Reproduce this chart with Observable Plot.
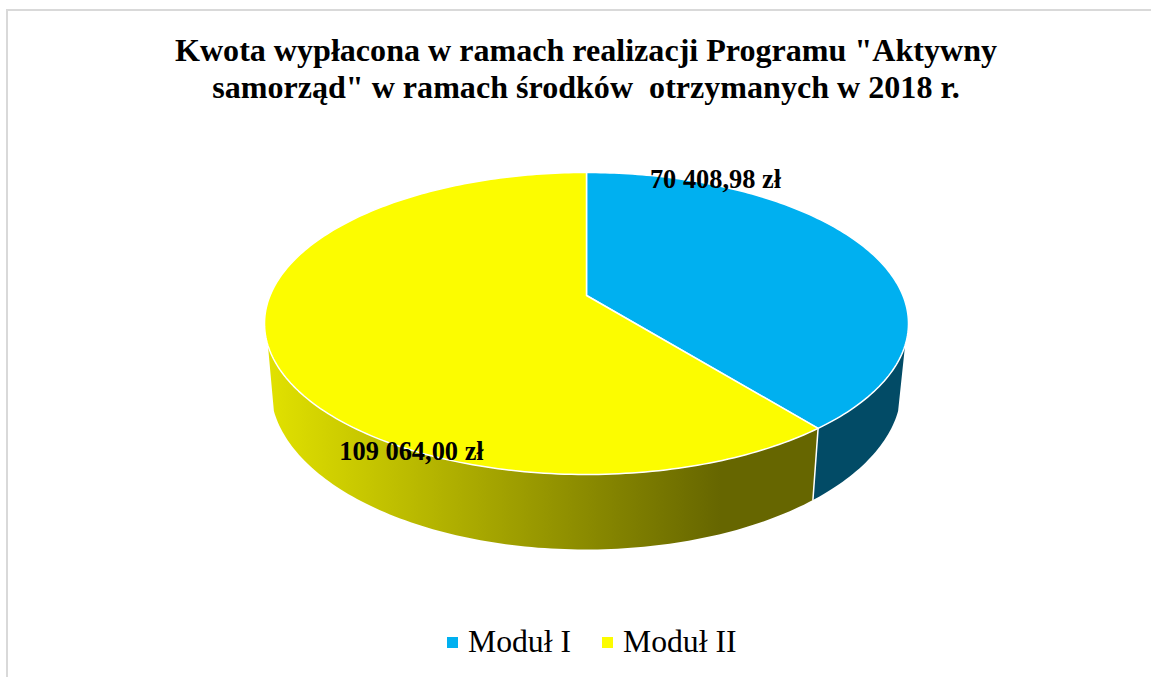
<!DOCTYPE html>
<html lang="pl">
<head>
<meta charset="utf-8">
<script src="https://cdn.jsdelivr.net/npm/d3@7"></script>
<script src="https://cdn.jsdelivr.net/npm/@observablehq/plot@0.6"></script>
<style>
  html, body { margin: 0; padding: 0; background: #fff; }
  body { width: 1151px; height: 677px; overflow: hidden; position: relative; font-family: "Liberation Serif", serif; color: #000; }
  #frame { position: absolute; left: 6px; top: 9px; right: -5px; bottom: -5px; border: 2px solid #d9d9d9; box-sizing: border-box; pointer-events: none; }
  #title { position: absolute; left: 0; width: 1172px; top: 32px; margin: 0; text-align: center; font-size: 32.1px; line-height: 37px; font-weight: bold; white-space: pre; }
  #chart { position: absolute; left: 0; top: 150px; }
  #chart svg { display: block; }
  #legend { position: absolute; top: 622px; left: 0; width: 1151px; height: 40px; font-size: 31.7px; line-height: 40px; }
  #legend span { position: absolute; white-space: pre; }
  #legend i { position: absolute; width: 11px; height: 11px; top: 15px; }
</style>
</head>
<body>
<div id="frame"></div>
<h1 id="title"></h1>
<div id="chart"></div>
<div id="legend"></div>
<script>
const titleLines = ['Kwota wypłacona w ramach realizacji Programu "Aktywny', 'samorząd" w ramach środków  otrzymanych w 2018 r.'];
const categories = ["Moduł I", "Moduł II"];
const amounts = [70408.98, 109064.00];
const topColors = ["#00b0f0", "#fcfc00"];
const wallColors = ["#024b66", "url(#wallYellow)"];
const legendX = [447, 602];

// layout of the tilted disc (pixels on the page)
const W = 1151, H = 460, TOP = 150;
const CX = 586, APEX = 295 - TOP, RX = 316.4, RY = 145.8, TILT = -0.1854;
const CX_B = 585.5, APEX_B = 357 - TOP, RX_B = 310, RY_B = 156.4;
const SILHOUETTE = 108.8;                        // degrees where the wall leaves the rim
const labelAnchors = [[715, 179 - TOP], [411, 451 - TOP]];

const total = d3.sum(amounts);
const shares = amounts.map(a => a / total * 360);
const plFormat = d3.formatLocale({decimal: ",", thousands: " ", grouping: [3], currency: ["", " zł"]}).format(",.2f");

// project a pie angle (degrees clockwise from 12 o'clock) onto a disc
const proj = (deg, cx, cy, rx, ry) => {
  const t = deg * Math.PI / 180, u = Math.sin(t), v = -Math.cos(t), d = 1 + TILT * v;
  return {x: cx + rx * u / d, y: cy + ry * v / d};
};
const onTop = d => proj(d, CX, APEX, RX, RY);
const onBottom = d => proj(d, CX_B, APEX_B, RX_B, RY_B);
const range = (a, b) => d3.range(a, b, 1).concat([b]);

const starts = [0, shares[0]];
const ends = [shares[0], 360];

const topSlices = categories.flatMap((c, i) => [
  {x: CX, y: APEX, c},
  ...range(starts[i], ends[i]).map(d => ({...onTop(d), c})),
  {x: CX, y: APEX, c}
]);

const wallSpan = [[SILHOUETTE, shares[0]], [shares[0], 360 - SILHOUETTE]];
const walls = categories.flatMap((c, i) => {
  const ds = range(wallSpan[i][0], wallSpan[i][1]);
  return [...ds.map(d => ({...onTop(d), c})), ...ds.slice().reverse().map(d => ({...onBottom(d), c}))];
});

const divider = [onTop(shares[0]), onBottom(shares[0])];
const labels = categories.map((c, i) => ({
  x: labelAnchors[i][0], y: labelAnchors[i][1], text: plFormat(amounts[i]) + " zł"
}));

const wallGradient = () => {
  const defs = d3.create("svg:defs");
  const g = defs.append("linearGradient").attr("id", "wallYellow")
    .attr("gradientUnits", "userSpaceOnUse")
    .attr("x1", 265).attr("x2", 720).attr("y1", 0).attr("y2", 0);
  g.append("stop").attr("offset", 0).attr("stop-color", "#e2e200");
  g.append("stop").attr("offset", 1).attr("stop-color", "#666600");
  return defs.node();
};

const chart = Plot.plot({
  width: W, height: H, margin: 0,
  x: {domain: [0, W], range: [0, W], axis: null},
  y: {domain: [0, H], range: [0, H], axis: null},
  color: {domain: categories, range: topColors},
  style: {background: "transparent"},
  marks: [
    wallGradient,
    ...categories.map((c, i) => Plot.line(walls.filter(d => d.c === c), {x: "x", y: "y", fill: wallColors[i], stroke: "none", curve: "linear-closed"})),
    Plot.line(divider, {x: "x", y: "y", stroke: "#ffffff", strokeWidth: 1.5}),
    ...categories.map((c, i) => Plot.line(topSlices.filter(d => d.c === c), {x: "x", y: "y", fill: topColors[i], stroke: "#ffffff", strokeWidth: 1.5, strokeLinejoin: "round", curve: "linear-closed"})),
    Plot.text(labels, {x: "x", y: "y", text: "text", fontSize: 26.4, fontWeight: "bold", fontFamily: "Liberation Serif", fill: "#000"})
  ]
});
document.getElementById("chart").append(chart);
document.getElementById("title").textContent = titleLines.join("\n");
const legend = document.getElementById("legend");
categories.forEach((c, i) => {
  const sw = document.createElement("i");
  sw.style.left = legendX[i] + "px";
  sw.style.background = topColors[i];
  const t = document.createElement("span");
  t.style.left = (legendX[i] + 21) + "px";
  t.textContent = c;
  legend.append(sw, t);
});
</script>
</body>
</html>
